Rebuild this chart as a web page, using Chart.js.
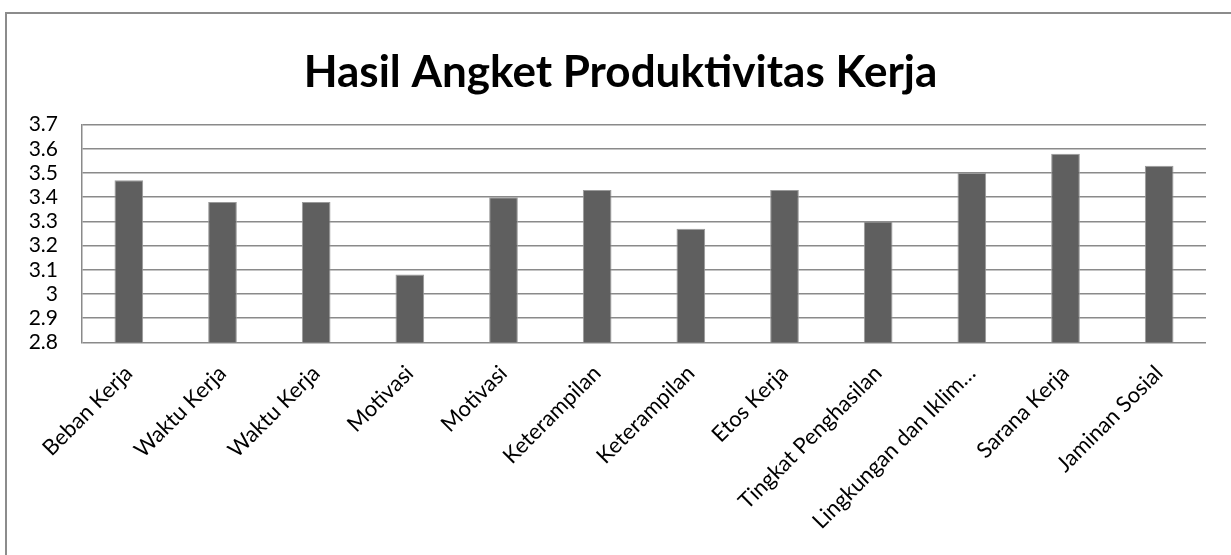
<!DOCTYPE html>
<html>
<head>
<meta charset="utf-8">
<script src="https://cdn.jsdelivr.net/npm/chart.js@4"></script>
<style>
  html, body { margin: 0; padding: 0; background: #fff; overflow: hidden; }
  #frame { position: absolute; left: 5px; top: 12px; width: 1400px; height: 800px; border: 2px solid #8c8c8c; }
  #chart { position: absolute; left: 0; top: 0; }
</style>
</head>
<body>
<div id="frame"></div>
<canvas id="chart" width="1231" height="555"></canvas>
<script>
var chartTitle = "Hasil Angket Produktivitas Kerja";
var categories = [
  "Beban Kerja", "Waktu Kerja", "Waktu Kerja", "Motivasi", "Motivasi",
  "Keterampilan", "Keterampilan", "Etos Kerja", "Tingkat Penghasilan",
  "Lingkungan dan Iklim\u2026", "Sarana Kerja", "Jaminan Sosial"
];
var scores = [3.47, 3.38, 3.38, 3.08, 3.40, 3.43, 3.27, 3.43, 3.30, 3.50, 3.58, 3.53];
var yMin = 2.8, yMax = 3.7, yStep = 0.1;

var fontFamily = "Lato, 'Open Sans', sans-serif";

// title drawn by hand so it can sit a bit right of the canvas center like the original
var titlePlugin = {
  id: 'excelTitle',
  afterDraw: function(chart) {
    var c = chart.ctx;
    c.save();
    c.font = "bold 44px " + fontFamily;
    c.fillStyle = "#000";
    c.textAlign = "center";
    c.textBaseline = "middle";
    c.fillText(chartTitle, chart.width / 2 + 5, 73);
    c.restore();
  }
};

var ctx = document.getElementById("chart").getContext("2d");
var chart = new Chart(ctx, {
  type: 'bar',
  data: {
    labels: categories,
    datasets: [{
      data: scores,
      backgroundColor: "#5f5f5f",
      borderColor: "#9a9a9a",
      borderWidth: 1,
      barPercentage: 0.306,
      categoryPercentage: 1
    }]
  },
  options: {
    responsive: false,
    animation: false,
    layout: { padding: { left: 0, right: 25, top: 124.7, bottom: 0 } },
    plugins: {
      legend: { display: false },
      tooltip: { enabled: false },
      title: { display: false }
    },
    scales: {
      x: {
        grid: { display: false, drawTicks: false },
        border: { display: false },
        ticks: {
          color: "#000",
          font: { family: fontFamily, size: 22 },
          minRotation: 45,
          maxRotation: 45,
          autoSkip: false,
          padding: 18
        },
        afterFit: function(scale) { scale.height = 212.7; }
      },
      y: {
        min: yMin,
        max: yMax,
        grid: { color: "#8a8a8a", lineWidth: 1.5, drawTicks: false },
        border: { display: true, color: "#8a8a8a", width: 1.5 },
        ticks: {
          stepSize: yStep,
          autoSkip: false,
          color: "#000",
          padding: 24,
          font: { family: fontFamily, size: 21 },
          callback: function(v) { return String(Math.round(v * 10) / 10); }
        },
        afterBuildTicks: function(scale) {
          var t = [];
          for (var i = 0; i <= Math.round((yMax - yMin) / yStep); i++) {
            t.push({ value: Math.round((yMin + i * yStep) * 10) / 10 });
          }
          scale.ticks = t;
        },
        afterFit: function(scale) { scale.width = 82; }
      }
    }
  },
  plugins: [titlePlugin]
});
</script>
</body>
</html>
